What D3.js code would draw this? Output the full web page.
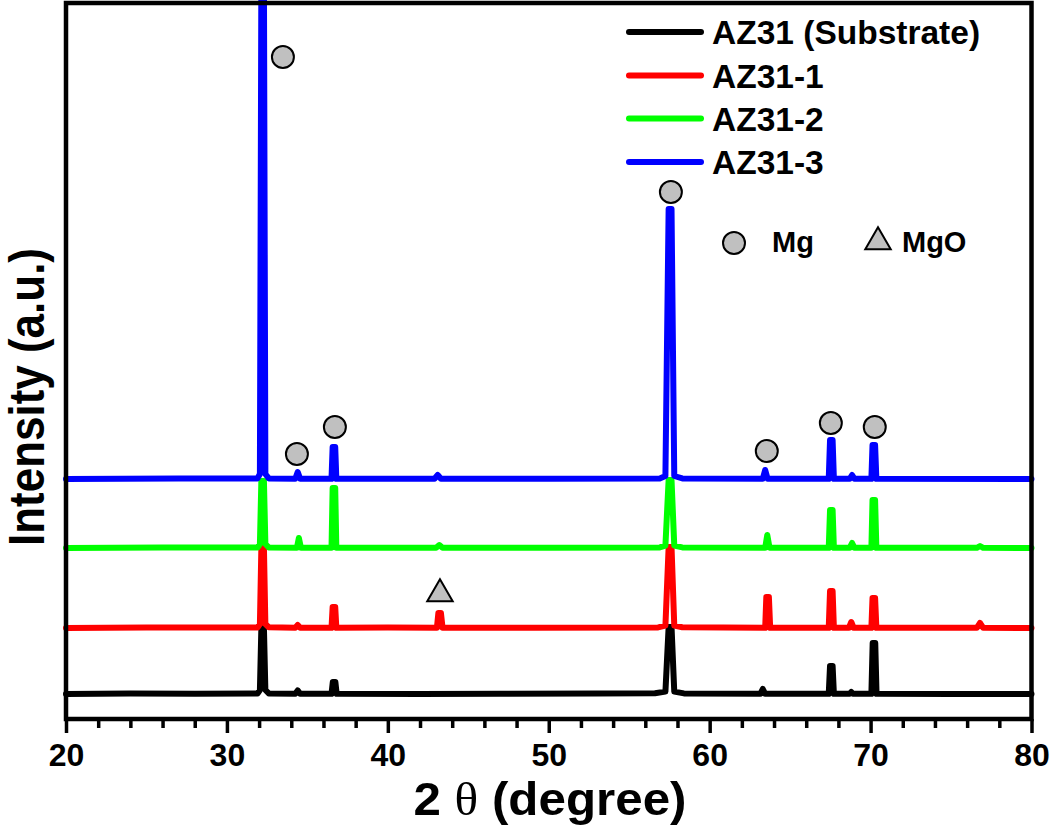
<!DOCTYPE html>
<html>
<head>
<meta charset="utf-8">
<script src="https://cdn.jsdelivr.net/npm/d3@7"></script>
<style>
  html, body { margin: 0; padding: 0; background: #fff; }
  svg { display: block; }
  text { font-family: "Liberation Sans", Arial, sans-serif; font-weight: bold; }
</style>
</head>
<body>
<svg id="chart" width="1050" height="825"></svg>
<script>
// ---------------- DATA ----------------
const seriesNames = ["AZ31 (Substrate)", "AZ31-1", "AZ31-2", "AZ31-3"];
const seriesColors = ["#000000", "#ff0000", "#00ff00", "#0000ff"];
const seriesOffsets = [125, 455, 855, 1200];

// [2theta, intensity (a.u.)], without offset
const az31Substrate = [
  [20, 0], [24, 2], [28, 1], [31.9, 2], [32.05, 20], [32.14, 330], [32.3, 330], [32.39, 20], [32.6, 3],
  [34.25, 1], [34.4, 18], [34.55, 1], [36.5, 1], [36.58, 60], [36.74, 60], [36.82, 1],
  [42, 0], [47, 1], [53, 2], [56.6, 4], [57.25, 12], [57.45, 335], [57.63, 335], [57.8, 12], [58.4, 3],
  [63.15, 1], [63.3, 25], [63.45, 1], [67.4, 1], [67.48, 140], [67.64, 140], [67.72, 1],
  [68.7, 1], [68.8, 10], [68.9, 1], [70.05, 1], [70.13, 255], [70.29, 255], [70.37, 1], [75, 0], [80, 0]
];
const az31_1 = [
  [20, 0], [25, 2], [29, 3], [31.9, 3], [32.05, 20], [32.14, 400], [32.3, 400], [32.39, 20], [32.6, 4],
  [34.25, 1], [34.4, 15], [34.55, 1], [36.5, 1], [36.57, 105], [36.73, 105], [36.8, 1],
  [40, 2], [43.05, 1], [43.14, 75], [43.3, 75], [43.4, 1], [49, 1], [56.8, 3], [57.25, 12],
  [57.45, 405], [57.63, 405], [57.8, 12], [58.3, 4], [63.45, 1], [63.52, 155], [63.68, 155], [63.76, 1],
  [67.4, 1], [67.48, 185], [67.64, 185], [67.72, 1], [68.65, 1], [68.8, 30], [68.95, 1],
  [70.05, 1], [70.12, 150], [70.28, 150], [70.36, 1], [76.6, 1], [76.8, 25], [77.0, 1], [80, 0]
];
const az31_2 = [
  [20, 0], [26, 2], [31.9, 2], [32.05, 20], [32.14, 335], [32.3, 335], [32.39, 20], [32.6, 3],
  [34.35, 1], [34.47, 50], [34.6, 1], [36.5, 1], [36.57, 300], [36.73, 300], [36.8, 1],
  [43.0, 1], [43.2, 15], [43.4, 1], [50, 1], [56.9, 3], [57.25, 12], [57.45, 340], [57.63, 340], [57.8, 12], [58.3, 3],
  [63.45, 1], [63.58, 65], [63.72, 1], [67.4, 1], [67.48, 190], [67.64, 190], [67.72, 1],
  [68.7, 1], [68.85, 25], [69.0, 1], [70.05, 1], [70.12, 240], [70.28, 240], [70.36, 1],
  [76.6, 1], [76.8, 10], [77.0, 1], [80, 0]
];
const az31_3 = [
  [20, 0], [27, 2], [31.9, 3], [32.05, 25], [32.14, 2500], [32.3, 2500], [32.39, 25], [32.6, 3],
  [34.25, 1], [34.4, 35], [34.55, 1], [36.5, 1], [36.57, 160], [36.73, 160], [36.8, 1],
  [42.9, 1], [43.1, 20], [43.3, 1], [50, 1], [56.9, 3], [57.25, 15], [57.45, 1350], [57.63, 1350], [57.8, 15], [58.3, 3],
  [63.3, 1], [63.45, 45], [63.6, 1], [67.4, 1], [67.48, 195], [67.64, 195], [67.72, 1],
  [68.7, 1], [68.85, 20], [69.0, 1], [70.05, 1], [70.12, 170], [70.28, 170], [70.36, 1], [80, 0]
];
const seriesData = [az31Substrate, az31_1, az31_2, az31_3];

// phase markers [2theta, intensity]
const mgMarkers = [[33.48, 3310], [34.35, 1325], [36.71, 1460], [57.59, 2635], [63.55, 1340], [67.53, 1480], [70.26, 1460]];
const mgoMarkers = [[43.24, 625]];

const xTicksMajor = [20, 30, 40, 50, 60, 70, 80];
const xTicksMinor = [22, 24, 26, 28, 32, 34, 36, 38, 42, 44, 46, 48, 52, 54, 56, 58, 62, 64, 66, 68, 72, 74, 76, 78];

// ---------------- LAYOUT ----------------
const svg = d3.select("#chart");
const pLeft = 66, pRight = 1031.5, pTop = 3, pBottom = 719;

const x = d3.scaleLinear().domain([20, 80]).range([pLeft, pRight]);
const y = d3.scaleLinear().domain([0, 3580]).range([pBottom, pBottom - 716]);

// lines
const line = d3.line().x(d => x(d[0])).y(d => y(d[1]));
seriesData.forEach((data, i) => {
  const pts = data.map(d => [d[0], d[1] + seriesOffsets[i]]);
  svg.append("path")
    .attr("d", line(pts))
    .attr("fill", "none")
    .attr("stroke", seriesColors[i])
    .attr("stroke-width", 6)
    .attr("stroke-linejoin", "round")
    .attr("stroke-linecap", "round");
});

// frame
svg.append("rect")
  .attr("x", pLeft).attr("y", pTop)
  .attr("width", pRight - pLeft).attr("height", pBottom - pTop)
  .attr("fill", "none").attr("stroke", "#000").attr("stroke-width", 4.5);

// axes
const gMajor = svg.append("g").attr("transform", `translate(0,${pBottom})`)
  .call(d3.axisBottom(x).tickValues(xTicksMajor).tickFormat(d3.format("d")).tickSize(14).tickPadding(10));
gMajor.select(".domain").remove();
gMajor.selectAll(".tick line").attr("stroke", "#000").attr("stroke-width", 3.5);
gMajor.selectAll(".tick text").attr("font-size", 32).attr("font-family", "Liberation Sans, Arial, sans-serif")
  .attr("font-weight", "bold").attr("fill", "#000");

const gMinor = svg.append("g").attr("transform", `translate(0,${pBottom})`)
  .call(d3.axisBottom(x).tickValues(xTicksMinor).tickFormat("").tickSize(9));
gMinor.select(".domain").remove();
gMinor.selectAll(".tick line").attr("stroke", "#000").attr("stroke-width", 3.5);

// axis titles
const xt = svg.append("text")
  .attr("x", 550).attr("y", 815)
  .attr("text-anchor", "middle").attr("font-size", 47).attr("fill", "#000")
  .attr("textLength", 273).attr("lengthAdjust", "spacingAndGlyphs");
xt.append("tspan").text("2 ");
xt.append("tspan").text("θ").attr("font-family", "Liberation Serif, serif").attr("font-weight", "normal");
xt.append("tspan").text(" (degree)");

svg.append("text")
  .attr("transform", `translate(44,397) rotate(-90)`)
  .attr("text-anchor", "middle").attr("font-size", 50).attr("fill", "#000")
  .attr("textLength", 298).attr("lengthAdjust", "spacingAndGlyphs")
  .text("Intensity (a.u.)");

// phase markers
svg.selectAll("circle.mg").data(mgMarkers).enter().append("circle")
  .attr("class", "mg")
  .attr("cx", d => x(d[0])).attr("cy", d => y(d[1])).attr("r", 11)
  .attr("fill", "#c0c0c0").attr("stroke", "#000").attr("stroke-width", 2);
const tri = d3.symbol().type(d3.symbolTriangle).size(280);
svg.selectAll("path.mgo").data(mgoMarkers).enter().append("path")
  .attr("class", "mgo")
  .attr("transform", d => `translate(${x(d[0])},${y(d[1])})`)
  .attr("d", tri)
  .attr("fill", "#c0c0c0").attr("stroke", "#000").attr("stroke-width", 2);

// legend
const legY = [32, 75.5, 118.5, 162];
seriesNames.forEach((name, i) => {
  svg.append("line")
    .attr("x1", 629).attr("x2", 701).attr("y1", legY[i]).attr("y2", legY[i])
    .attr("stroke", seriesColors[i]).attr("stroke-width", 6).attr("stroke-linecap", "round");
  svg.append("text").attr("x", 712).attr("y", legY[i] + 12)
    .attr("font-size", 33.5).attr("fill", "#000").text(name);
});

// phase legend
svg.append("circle").attr("cx", 734).attr("cy", 243).attr("r", 11)
  .attr("fill", "#c0c0c0").attr("stroke", "#000").attr("stroke-width", 2);
svg.append("text").attr("x", 772).attr("y", 252).attr("font-size", 29).attr("fill", "#000").text("Mg");
svg.append("path").attr("transform", "translate(878,242)").attr("d", tri)
  .attr("fill", "#c0c0c0").attr("stroke", "#000").attr("stroke-width", 2);
svg.append("text").attr("x", 902).attr("y", 252).attr("font-size", 29).attr("fill", "#000").text("MgO");
</script>
</body>
</html>
